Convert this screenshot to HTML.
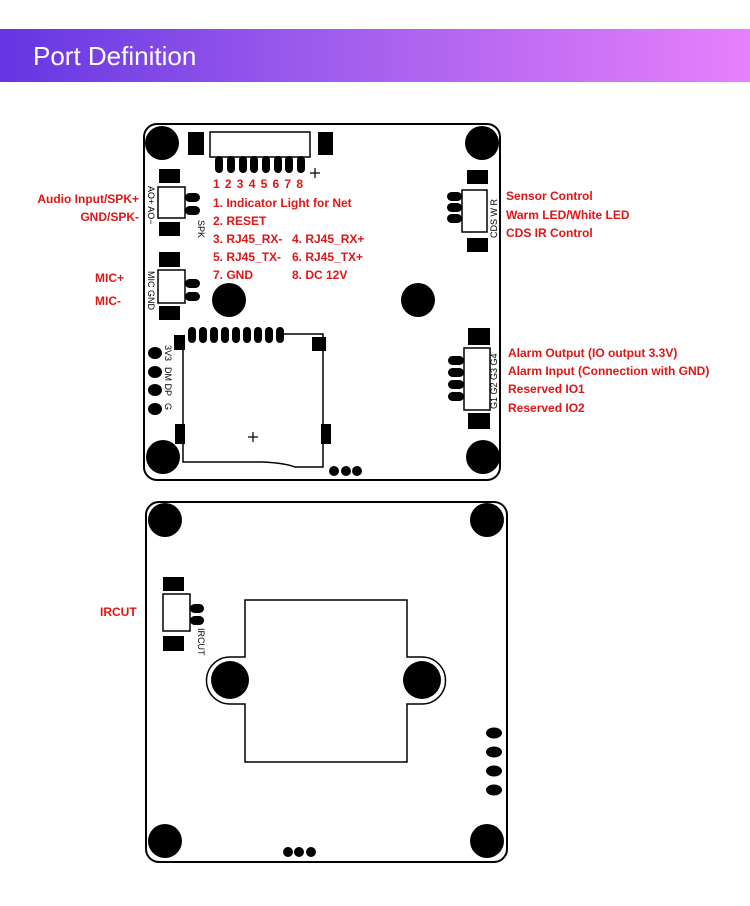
<!DOCTYPE html>
<html><head><meta charset="utf-8"><style>
body{margin:0;width:750px;height:906px;background:#fff;overflow:hidden;position:relative;font-family:"Liberation Sans",sans-serif}
.ban{position:absolute;left:0;top:29px;width:750px;height:53px;background:linear-gradient(90deg,#6535e2,#9a5aec 40%,#e880fb)}
.ban span{position:absolute;left:33px;top:12px;color:#fff;font-size:26px}
svg{position:absolute;left:0;top:0}
.r{fill:#e01515;font-family:"Liberation Sans",sans-serif;font-weight:bold;font-size:12px}
.s{fill:#000;font-family:"Liberation Sans",sans-serif;font-size:9px}
</style></head><body>
<div class="ban"><span>Port Definition</span></div>
<svg width="750" height="906" viewBox="0 0 750 906">
<g fill="none" stroke="#000" stroke-width="2">
<rect x="144" y="124" width="356" height="356" rx="13"/>
<rect x="146" y="502" width="361" height="360" rx="13"/>
</g>
<g fill="#000">
<circle cx="162" cy="143" r="17"/><circle cx="482" cy="143" r="17"/>
<circle cx="163" cy="457" r="17"/><circle cx="483" cy="457" r="17"/>
<circle cx="229" cy="300" r="17"/><circle cx="418" cy="300" r="17"/>
<rect x="188" y="132" width="16" height="23"/><rect x="318" y="132" width="15" height="23"/>
<rect x="215" y="156" width="8" height="17" rx="4"/><rect x="227" y="156" width="8" height="17" rx="4"/>
<rect x="239" y="156" width="8" height="17" rx="4"/><rect x="250" y="156" width="8" height="17" rx="4"/>
<rect x="262" y="156" width="8" height="17" rx="4"/><rect x="274" y="156" width="8" height="17" rx="4"/>
<rect x="285" y="156" width="8" height="17" rx="4"/><rect x="297" y="156" width="8" height="17" rx="4"/>
<rect x="159" y="169" width="21" height="14"/><rect x="159" y="222" width="21" height="14"/>
<rect x="185" y="193" width="15" height="9" rx="4.5"/><rect x="185" y="206" width="15" height="9" rx="4.5"/>
<rect x="159" y="252" width="21" height="15"/><rect x="159" y="306" width="21" height="14"/>
<rect x="185" y="279" width="15" height="9" rx="4.5"/><rect x="185" y="292" width="15" height="9" rx="4.5"/>
<rect x="467" y="170" width="21" height="14"/><rect x="467" y="238" width="21" height="14"/>
<rect x="447" y="192" width="15" height="9" rx="4.5"/><rect x="447" y="203" width="15" height="9" rx="4.5"/><rect x="447" y="214" width="15" height="9" rx="4.5"/>
<rect x="468" y="328" width="22" height="17"/><rect x="468" y="413" width="22" height="16"/>
<rect x="448" y="356" width="16" height="9" rx="4.5"/><rect x="448" y="368" width="16" height="9" rx="4.5"/><rect x="448" y="380" width="16" height="9" rx="4.5"/><rect x="448" y="392" width="16" height="9" rx="4.5"/>
<rect x="188" y="327" width="8" height="16" rx="4"/><rect x="199" y="327" width="8" height="16" rx="4"/><rect x="210" y="327" width="8" height="16" rx="4"/><rect x="221" y="327" width="8" height="16" rx="4"/><rect x="232" y="327" width="8" height="16" rx="4"/><rect x="243" y="327" width="8" height="16" rx="4"/><rect x="254" y="327" width="8" height="16" rx="4"/><rect x="265" y="327" width="8" height="16" rx="4"/><rect x="276" y="327" width="8" height="16" rx="4"/>
<rect x="174" y="335" width="11" height="15"/><rect x="312" y="337" width="14" height="14"/>
<rect x="175" y="424" width="10" height="20"/><rect x="321" y="424" width="10" height="20"/>
<ellipse cx="155" cy="353" rx="7" ry="6"/><ellipse cx="155" cy="372" rx="7" ry="6"/><ellipse cx="155" cy="390" rx="7" ry="6"/><ellipse cx="155" cy="409" rx="7" ry="6"/>
<circle cx="334" cy="471" r="5"/><circle cx="346" cy="471" r="5"/><circle cx="357" cy="471" r="5"/>
<circle cx="165" cy="520" r="17"/><circle cx="487" cy="520" r="17"/><circle cx="165" cy="841" r="17"/><circle cx="487" cy="841" r="17"/>
<rect x="163" y="577" width="21" height="14"/><rect x="163" y="636" width="21" height="15"/>
<rect x="190" y="604" width="14" height="9" rx="4.5"/><rect x="190" y="616" width="14" height="9" rx="4.5"/>
<circle cx="230" cy="680" r="19"/><circle cx="422" cy="680" r="19"/>
<ellipse cx="494" cy="733" rx="8" ry="5.5"/><ellipse cx="494" cy="752" rx="8" ry="5.5"/><ellipse cx="494" cy="771" rx="8" ry="5.5"/><ellipse cx="494" cy="790" rx="8" ry="5.5"/>
<circle cx="288" cy="852" r="5"/><circle cx="299" cy="852" r="5"/><circle cx="311" cy="852" r="5"/>
</g>
<g fill="none" stroke="#000" stroke-width="1.5">
<rect x="210" y="132" width="100" height="25"/>
<rect x="158" y="187" width="27" height="31"/>
<rect x="158" y="270" width="27" height="33"/>
<rect x="462" y="190" width="25" height="42"/>
<rect x="464" y="348" width="26" height="62"/>
<path d="M284 334H323V467H295Q285 463 262 462H183V335"/>
<rect x="163" y="594" width="27" height="37"/>
<path d="M245 657V600H407V657H422A23 23 0 0 1 422 704H407V762H245V704H230A23 23 0 0 1 230 657Z"/>
<path d="M310 173h10M315 168v10M248 437h10M253 432v10" stroke-width="1.2"/>
</g>
<g class="s">
<text transform="translate(148,186) rotate(90)">AO+ AO−</text>
<text transform="translate(198,220) rotate(90)">SPK</text>
<text transform="translate(148,271) rotate(90)">MIC  GND</text>
<text transform="translate(497,238) rotate(-90)">CDS  W  R</text>
<text transform="translate(497,409) rotate(-90)">G1  G2  G3  G4</text>
<text transform="translate(165,345) rotate(90)">3V3</text>
<text transform="translate(165,367) rotate(90)">DM  DP</text>
<text transform="translate(165,403) rotate(90)">G</text>
<text transform="translate(198,628) rotate(90)">IRCUT</text>
</g>
<g class="r">
<text x="213" y="188" textLength="90">1 2 3 4 5 6 7 8</text>
<text x="213" y="207">1. Indicator Light for Net</text>
<text x="213" y="225">2. RESET</text>
<text x="213" y="243">3. RJ45_RX-</text><text x="292" y="243">4. RJ45_RX+</text>
<text x="213" y="261">5. RJ45_TX-</text><text x="292" y="261">6. RJ45_TX+</text>
<text x="213" y="279">7. GND</text><text x="292" y="279">8. DC 12V</text>
<text x="139" y="203" text-anchor="end">Audio Input/SPK+</text>
<text x="139" y="221" text-anchor="end">GND/SPK-</text>
<text x="95" y="282">MIC+</text>
<text x="95" y="305">MIC-</text>
<text x="506" y="200">Sensor Control</text>
<text x="506" y="219">Warm LED/White LED</text>
<text x="506" y="237">CDS IR Control</text>
<text x="508" y="357">Alarm Output (IO output 3.3V)</text>
<text x="508" y="375">Alarm Input (Connection with GND)</text>
<text x="508" y="393">Reserved IO1</text>
<text x="508" y="412">Reserved IO2</text>
<text x="100" y="616">IRCUT</text>
</g>
</svg>
</body></html>
